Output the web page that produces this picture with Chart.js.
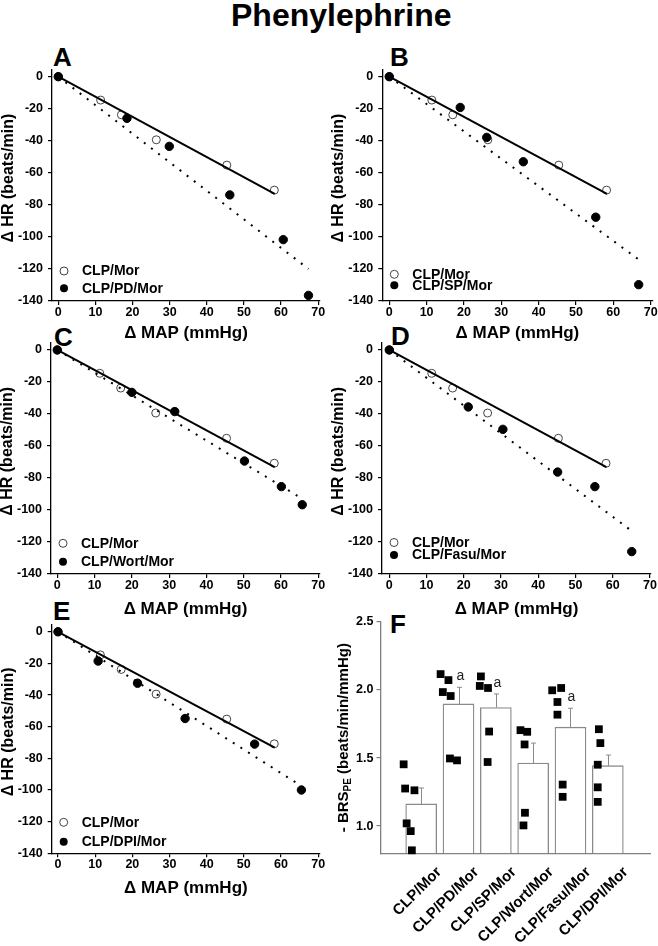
<!DOCTYPE html>
<html><head><meta charset="utf-8">
<script src="https://cdn.jsdelivr.net/npm/chart.js@4"></script>
<style>
body{margin:0;background:#fff;}
#wrap{position:relative;width:658px;height:946px;overflow:hidden;font-family:"Liberation Sans",Arial,Helvetica,sans-serif;background:#fff;}
canvas{position:absolute;}
.t{position:absolute;font-weight:bold;line-height:1;white-space:nowrap;color:#000;}
</style></head><body><div id="wrap">
<div class="t" style="left:231px;top:-1px;font-size:32px">Phenylephrine</div>
<div class="t" style="left:53px;top:44px;font-size:26px">A</div>
<div class="t" style="left:390px;top:44px;font-size:26px">B</div>
<div class="t" style="left:54px;top:324px;font-size:26px">C</div>
<div class="t" style="left:391px;top:323px;font-size:26px">D</div>
<div class="t" style="left:53px;top:598px;font-size:26px">E</div>
<div class="t" style="left:390px;top:611px;font-size:26px">F</div>
</div>
<script>
// ---------- data ----------
const mapTicks = [0, 10, 20, 30, 40, 50, 60, 70];
const hrTicks = [-140, -120, -100, -80, -60, -40, -20, 0];

const controlName = 'CLP/Mor';
const controlMAP = [0, 11.4, 17.0, 26.4, 45.4, 58.2];
const controlHR  = [0, -14.6, -23.8, -39.4, -55.2, -70.8];
const controlFitMAP = [0, 58.3];
const controlFitHR  = [0, -73.2];

const pdName = 'CLP/PD/Mor';
const pdMAP = [0, 18.5, 29.9, 46.2, 60.6, 67.4];
const pdHR  = [0, -26.0, -43.5, -73.8, -101.7, -136.5];
const pdFitMAP = [0, 67.4];
const pdFitHR  = [0, -120.0];

const spName = 'CLP/SP/Mor';
const spMAP = [0, 19.0, 26.1, 35.9, 55.3, 66.8];
const spHR  = [0, -19.2, -37.9, -53.1, -87.7, -129.8];
const spFitMAP = [0, 66.8];
const spFitHR  = [0, -114.1];

const wortName = 'CLP/Wort/Mor';
const wortMAP = [0, 20.0, 31.5, 50.2, 60.1, 65.7];
const wortHR  = [0, -26.5, -38.5, -69.4, -85.4, -96.7];
const wortFitMAP = [0, 65.7];
const wortFitHR  = [0, -93.0];

const fasuName = 'CLP/Fasu/Mor';
const fasuMAP = [0, 21.2, 30.5, 45.2, 55.2, 65.1];
const fasuHR  = [0, -35.6, -49.6, -76.3, -85.4, -126.0];
const fasuFitMAP = [0, 65.1];
const fasuFitHR  = [0, -113.1];

const dpiName = 'CLP/DPI/Mor';
const dpiMAP = [0, 10.8, 21.4, 34.2, 52.9, 65.5];
const dpiHR  = [0, -18.5, -32.5, -54.8, -71.0, -100.0];
const dpiFitMAP = [0, 65.5];
const dpiFitHR  = [0, -97.5];

const brsGroups = ['CLP/Mor', 'CLP/PD/Mor', 'CLP/SP/Mor', 'CLP/Wort/Mor', 'CLP/Fasu/Mor', 'CLP/DPI/Mor'];
const brsMean = [1.163, 1.898, 1.871, 1.463, 1.727, 1.444];
const brsSEM  = [0.117, 0.122, 0.100, 0.147, 0.139, 0.078];
const brsSig  = ['', 'a', 'a', '', 'a', ''];
const brsTicks = [1.0, 1.5, 2.0, 2.5];
const brsPoints = [
  [1.454, 1.276, 1.263, 1.020, 0.963, 0.822],
  [2.117, 2.073, 1.985, 1.956, 1.497, 1.483],
  [2.100, 2.030, 2.015, 1.695, 1.471],
  [1.705, 1.693, 1.600, 1.098, 1.005],
  [1.998, 2.015, 1.912, 1.819, 1.305, 1.215],
  [1.712, 1.610, 1.451, 1.285, 1.178]
];
const brsJitter = [
  [-0.47, -0.43, -0.18, -0.39, -0.28, -0.25],
  [-0.48, -0.27, -0.42, -0.21, -0.23, -0.04],
  [-0.40, -0.43, -0.21, -0.18, -0.22],
  [-0.34, -0.16, -0.23, -0.22, -0.26],
  [-0.49, -0.25, -0.35, -0.35, -0.21, -0.21],
  [-0.24, -0.20, -0.27, -0.27, -0.27]
];

// ---------- setup ----------
const FAM = '"Liberation Sans", Arial, Helvetica, sans-serif';
Chart.defaults.font.family = FAM;
Chart.defaults.color = '#000';
Chart.defaults.animation = false;

const wrap = document.getElementById('wrap');
function mkCanvas(l, t, w, h) {
  const c = document.createElement('canvas');
  c.width = w; c.height = h;
  c.style.left = l + 'px'; c.style.top = t + 'px';
  c.style.width = w + 'px'; c.style.height = h + 'px';
  wrap.appendChild(c);
  return c;
}

function makeYTitle(parts, xPos, dy) {
  return {
    id: 'yTitle',
    afterDraw(chart) {
      const ctx = chart.ctx, a = chart.chartArea;
      ctx.save();
      ctx.translate(xPos, (a.top + a.bottom) / 2 + dy);
      ctx.rotate(-Math.PI / 2);
      const widths = [];
      let total = 0;
      parts.forEach(p => { ctx.font = 'bold ' + p.size + 'px ' + FAM; const w = ctx.measureText(p.text).width; widths.push(w); total += w; });
      let x = -total / 2;
      ctx.fillStyle = '#000';
      ctx.textBaseline = 'middle';
      ctx.textAlign = 'left';
      parts.forEach((p, i) => { ctx.font = 'bold ' + p.size + 'px ' + FAM; ctx.fillText(p.text, x, p.shift || 0); x += widths[i]; });
      ctx.restore();
    }
  };
}

function makeLegend(rows, mx, tx) {
  return {
    id: 'panelLegend',
    afterDraw(chart) {
      const ctx = chart.ctx, a = chart.chartArea;
      ctx.save();
      rows.forEach(r => {
        const y = a.bottom + r.dy;
        ctx.beginPath();
        ctx.arc(a.left + mx, y, 4, 0, Math.PI * 2);
        if (r.filled) { ctx.fillStyle = '#000'; ctx.fill(); }
        else { ctx.fillStyle = '#fff'; ctx.fill(); ctx.lineWidth = 1; ctx.strokeStyle = '#444'; ctx.stroke(); }
        ctx.fillStyle = '#000';
        ctx.font = 'bold 14px ' + FAM;
        ctx.textBaseline = 'middle';
        ctx.textAlign = 'left';
        ctx.fillText(r.text, a.left + tx, y + 0.5);
      });
      ctx.restore();
    }
  };
}

function toPts(xs, ys) { return xs.map((x, i) => ({ x: x, y: ys[i] })); }

function scatterPanel(p) {
  const c = mkCanvas(p.cl, p.ct, p.cw, p.ch);
  const a = p.area;
  const yW = a.l - p.cl, xH = p.ct + p.ch - a.b;
  const gridOpt = () => ({ display: true, drawOnChartArea: false, drawTicks: true, tickLength: 4, color: '#000', lineWidth: 1.2 });
  const borderOpt = () => ({ display: true, color: '#000', width: 1.3 });
  new Chart(c, {
    type: 'scatter',
    data: { datasets: [
      { label: p.trt.name, data: toPts(p.trt.x, p.trt.y), pointRadius: 4.2, pointBackgroundColor: '#000', pointBorderColor: '#000', pointBorderWidth: 1, order: 0, clip: false },
      { label: 'fit1', data: toPts(controlFitMAP, controlFitHR), showLine: true, borderColor: '#000', borderWidth: 2, pointRadius: 0, order: 1 },
      { label: 'fit2', data: toPts(p.trt.fx, p.trt.fy), showLine: true, borderColor: '#000', borderWidth: 2, borderDash: [2, 7], pointRadius: 0, order: 1 },
      { label: controlName, data: toPts(controlMAP, controlHR), pointRadius: 4, pointBackgroundColor: '#fff', pointBorderColor: '#444', pointBorderWidth: 1, order: 2, clip: false }
    ]},
    options: {
      responsive: false, animation: false, events: [],
      layout: { padding: { left: 0, top: a.t - p.ct, right: p.cl + p.cw - a.r, bottom: 0 } },
      plugins: { legend: { display: false }, tooltip: { enabled: false } },
      scales: {
        x: {
          type: 'linear', min: p.xmin, max: p.xmax,
          afterBuildTicks: s => { s.ticks = mapTicks.map(v => ({ value: v })); },
          afterFit: s => { s.height = xH; },
          ticks: { font: { size: 12.5, weight: 'bold' }, color: '#000', padding: 0, maxRotation: 0, autoSkip: false },
          title: { display: true, text: 'Δ MAP (mmHg)', font: { size: 17, weight: 'bold' }, color: '#000', padding: 0 },
          grid: gridOpt(), border: borderOpt()
        },
        y: {
          type: 'linear', min: -140, max: 4.6,
          afterBuildTicks: s => { s.ticks = hrTicks.map(v => ({ value: v })); },
          afterFit: s => { s.width = yW; },
          ticks: { font: { size: 12.5, weight: 'bold' }, color: '#000', padding: 5, autoSkip: false },
          title: { display: false },
          grid: gridOpt(), border: borderOpt()
        }
      }
    },
    plugins: [
      makeYTitle([{ text: 'Δ HR (beats/min)', size: 16 }], a.l - p.cl - 43.5, -7),
      makeLegend([{ dy: p.leg[0], text: controlName, filled: false }, { dy: p.leg[1], text: p.trt.name, filled: true }], 12, 30)
    ]
  });
}

const panels = [
  { cl: 0, ct: 55, cw: 329, ch: 289, area: { l: 52, r: 320, t: 69.3, b: 301 }, xmin: -1.7, xmax: 70.5, leg: [-30, -12.7],
    trt: { name: pdName, x: pdMAP, y: pdHR, fx: pdFitMAP, fy: pdFitHR } },
  { cl: 329, ct: 55, cw: 329, ch: 289, area: { l: 382.3, r: 652.5, t: 69.3, b: 301 }, xmin: -1.87, xmax: 70.5, leg: [-26.7, -15.7],
    trt: { name: spName, x: spMAP, y: spHR, fx: spFitMAP, fy: spFitHR } },
  { cl: 0, ct: 330, cw: 329, ch: 290, area: { l: 51, r: 320, t: 342.6, b: 574 }, xmin: -1.69, xmax: 70.46, leg: [-30.7, -12.3],
    trt: { name: wortName, x: wortMAP, y: wortHR, fx: wortFitMAP, fy: wortFitHR } },
  { cl: 329, ct: 330, cw: 329, ch: 290, area: { l: 382, r: 651, t: 342.6, b: 574 }, xmin: -1.96, xmax: 70.27, leg: [-31.5, -19],
    trt: { name: fasuName, x: fasuMAP, y: fasuHR, fx: fasuFitMAP, fy: fasuFitHR } },
  { cl: 0, ct: 612, cw: 329, ch: 287, area: { l: 51.7, r: 320, t: 622, b: 853.3 }, xmin: -1.7, xmax: 70.5, leg: [-31, -11.6],
    trt: { name: dpiName, x: dpiMAP, y: dpiHR, fx: dpiFitMAP, fy: dpiFitHR } }
];
panels.forEach(scatterPanel);

// ---------- panel F: bar chart ----------
(function () {
  const cl = 329, ct = 600, cw = 329, ch = 346;
  const a = { l: 380.5, r: 650, t: 622, b: 853.3 };
  const c = mkCanvas(cl, ct, cw, ch);
  const yMin = 0.8, yMax = 2.5;
  const pts = [];
  brsPoints.forEach((g, i) => g.forEach((v, j) => pts.push({ x: i + brsJitter[i][j], y: v })));
  const errPlugin = {
    id: 'errBars',
    afterDatasetsDraw(chart) {
      const ctx = chart.ctx, xs = chart.scales.x, ys = chart.scales.y;
      ctx.save();
      ctx.strokeStyle = '#8a8a8a'; ctx.lineWidth = 1;
      brsMean.forEach((m, i) => {
        const x = Math.round(xs.getPixelForValue(i)) + 0.5;
        const y0 = ys.getPixelForValue(m), y1 = ys.getPixelForValue(m + brsSEM[i]);
        ctx.beginPath(); ctx.moveTo(x, y0); ctx.lineTo(x, y1);
        ctx.moveTo(x - 2.5, y1); ctx.lineTo(x + 2.5, y1); ctx.stroke();
        if (brsSig[i]) {
          ctx.fillStyle = '#222'; ctx.font = '14px ' + FAM;
          ctx.textAlign = 'center'; ctx.textBaseline = 'middle';
          ctx.fillText(brsSig[i], x + 1, y1 - 11);
        }
      });
      ctx.restore();
    }
  };
  new Chart(c, {
    type: 'bar',
    data: { datasets: [
      { type: 'scatter', data: pts, pointStyle: 'rect', pointRadius: 5.5, pointBackgroundColor: '#000', pointBorderColor: '#000', pointBorderWidth: 0, order: 0, clip: false },
      { type: 'bar', data: brsMean.map((v, i) => ({ x: i, y: v })), backgroundColor: '#fff', borderColor: '#8a8a8a', borderWidth: 1.3, barThickness: 31, base: yMin, order: 1 }
    ]},
    options: {
      responsive: false, animation: false, events: [],
      layout: { padding: { left: 0, top: a.t - ct, right: cl + cw - a.r, bottom: 0 } },
      plugins: { legend: { display: false }, tooltip: { enabled: false } },
      scales: {
        x: {
          type: 'linear', min: -1.09, max: 6.13, offset: false,
          afterBuildTicks: s => { s.ticks = brsGroups.map((g, i) => ({ value: i })); },
          afterFit: s => { s.height = ct + ch - a.b; },
          ticks: { font: { size: 15, weight: 'bold' }, color: '#000', padding: 2, minRotation: 45, maxRotation: 45, autoSkip: false, labelOffset: 18,
            callback: v => brsGroups[v] },
          grid: { display: false, offset: false },
          border: { display: true, color: '#7f7f7f', width: 1.3 }
        },
        y: {
          type: 'linear', min: yMin, max: yMax,
          afterBuildTicks: s => { s.ticks = brsTicks.map(v => ({ value: v })); },
          afterFit: s => { s.width = a.l - cl; },
          ticks: { font: { size: 12.5, weight: 'bold' }, color: '#000', padding: 3, autoSkip: false, callback: v => Number(v).toFixed(1) },
          grid: { display: true, drawOnChartArea: false, drawTicks: true, tickLength: 4, color: '#7f7f7f', lineWidth: 1.2 },
          border: { display: true, color: '#7f7f7f', width: 1.3 }
        }
      }
    },
    plugins: [
      makeYTitle([{ text: '- BRS', size: 15 }, { text: 'PE', size: 10, shift: 4 }, { text: ' (beats/min/mmHg)', size: 15 }], 15, 0),
      errPlugin
    ]
  });
})();
</script>
</body></html>
